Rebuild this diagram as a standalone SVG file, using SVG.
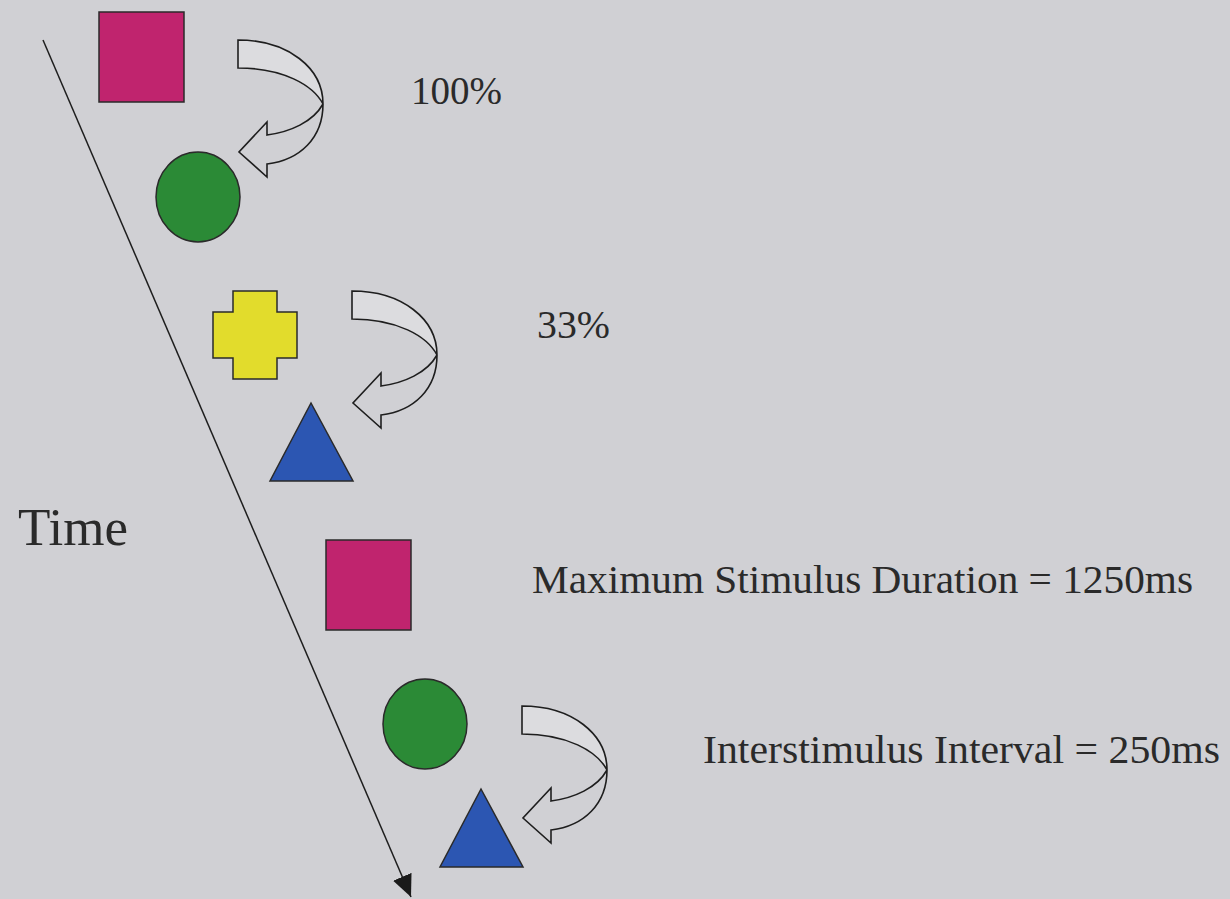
<svg xmlns="http://www.w3.org/2000/svg" width="1230" height="899" viewBox="0 0 1230 899">
  <style>
    .shape { stroke: #2a2a2a; stroke-width: 1.5; }
    .curl { fill: none; stroke: #1e1e1e; stroke-width: 1.6; stroke-linejoin: miter; }
    .band { fill: #dcdcdf; stroke: none; }
    .lbl { font-family: "Liberation Serif", "Times New Roman", serif; fill: #2a2a2a; }
  </style>
  <defs>
    <marker id="head" markerUnits="userSpaceOnUse" markerWidth="24" markerHeight="22" refX="22" refY="10" orient="auto">
      <path d="M0,0 L22,10 L0,20 Z" fill="#1a1a1a"/>
    </marker>
    <g id="curl">
      <path class="band" d="M0,0 C50,0 85,28 85,64 C75,45 45,28 0,28 Z"/>
      <path class="curl" d="M0,0 C50,0 85,28 85,64 C85,98 62,120 29,124 L29,137 L1,112 L29,82 L29,95 C52,92 75,82 85,64 C75,45 45,28 0,28 Z"/>
    </g>
  </defs>
  <rect width="1230" height="899" fill="#d0d0d4"/>

  <g id="connectors">
    <line id="time-axis" x1="43" y1="40" x2="411" y2="897" stroke="#1e1e1e" stroke-width="1.5" marker-end="url(#head)"/>
    <use id="curl-1" href="#curl" transform="translate(238,40)"/>
    <use id="curl-2" href="#curl" transform="translate(352,291)"/>
    <use id="curl-3" href="#curl" transform="translate(522,706)"/>
  </g>

  <g id="square-1"><rect class="shape" x="99" y="12" width="85" height="90" fill="#c0246e"/></g>
  <g id="circle-1"><ellipse class="shape" cx="198" cy="197" rx="42" ry="45" fill="#2b8a36"/></g>
  <g id="cross-1"><path class="shape" fill="#e2dc2c" d="M233,291 H277 V312 H297 V358 H277 V379 H233 V358 H213 V312 H233 Z"/></g>
  <g id="triangle-1"><polygon class="shape" points="311,403 353,481 270,481" fill="#2c56b2"/></g>
  <g id="square-2"><rect class="shape" x="326" y="540" width="85" height="90" fill="#c0246e"/></g>
  <g id="circle-2"><ellipse class="shape" cx="425" cy="724" rx="42" ry="45" fill="#2b8a36"/></g>
  <g id="triangle-2"><polygon class="shape" points="481,789 523,867 440,867" fill="#2c56b2"/></g>

  <g id="labels">
    <text class="lbl" x="18" y="545" font-size="52" textLength="110" lengthAdjust="spacingAndGlyphs">Time</text>
    <text class="lbl" x="411" y="104" font-size="39" textLength="91" lengthAdjust="spacingAndGlyphs">100%</text>
    <text class="lbl" x="537" y="338" font-size="40" textLength="73" lengthAdjust="spacingAndGlyphs">33%</text>
    <text class="lbl" x="532" y="593" font-size="41" textLength="661" lengthAdjust="spacingAndGlyphs">Maximum Stimulus Duration = 1250ms</text>
    <text class="lbl" x="703" y="763" font-size="41" textLength="517" lengthAdjust="spacingAndGlyphs">Interstimulus Interval = 250ms</text>
  </g>
</svg>
